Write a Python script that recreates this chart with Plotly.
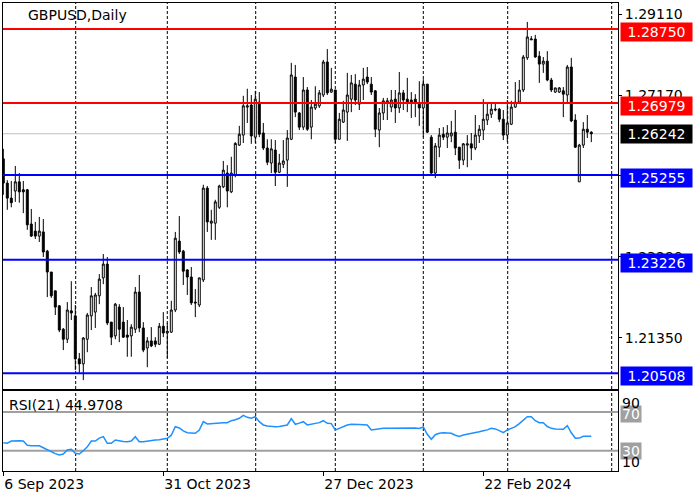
import plotly.graph_objects as go

# ---------------- data ----------------
opens = [
    1.2564, 1.2506, 1.2470, 1.2487, 1.2509, 1.2490, 1.2490, 1.2408, 1.2391, 1.2379,
    1.2389, 1.2343, 1.2293, 1.2248, 1.2212, 1.2156, 1.2132, 1.2200, 1.2188, 1.2085,
    1.2073, 1.2132, 1.2188, 1.2197, 1.2236, 1.2279, 1.2312, 1.2173, 1.2140, 1.2209,
    1.2173, 1.2142, 1.2140, 1.2156, 1.2245, 1.2159, 1.2111, 1.2128, 1.2128, 1.2120,
    1.2163, 1.2147, 1.2149, 1.2202, 1.2367, 1.2343, 1.2298, 1.2281, 1.2221, 1.2214,
    1.2274, 1.2494, 1.2410, 1.2410, 1.2448, 1.2497, 1.2530, 1.2485, 1.2525, 1.2597,
    1.2621, 1.2688, 1.2693, 1.2616, 1.2700, 1.2626, 1.2590, 1.2554, 1.2585, 1.2532,
    1.2551, 1.2561, 1.2611, 1.2760, 1.2674, 1.2640, 1.2729, 1.2640, 1.2686, 1.2691,
    1.2717, 1.2796, 1.2724, 1.2729, 1.2611, 1.2652, 1.2676, 1.2707, 1.2743, 1.2695,
    1.2741, 1.2760, 1.2743, 1.2727, 1.2633, 1.2674, 1.2698, 1.2688, 1.2707, 1.2686,
    1.2722, 1.2707, 1.2705, 1.2707, 1.2698, 1.2686, 1.2743, 1.2616, 1.2530, 1.2592,
    1.2623, 1.2616, 1.2619, 1.2628, 1.2592, 1.2561, 1.2597, 1.2600, 1.2590, 1.2619,
    1.2633, 1.2657, 1.2671, 1.2681, 1.2683, 1.2659, 1.2621, 1.2647, 1.2688, 1.2700,
    1.2729, 1.2806, 1.2849, 1.2851, 1.2810, 1.2791, 1.2798, 1.2753, 1.2724, 1.2724,
    1.2727, 1.2717, 1.2784, 1.2657, 1.2509, 1.2597, 1.2635, 1.2628,
]
highs = [
    1.2588, 1.2513, 1.2511, 1.2547, 1.2530, 1.2511, 1.2492, 1.2444, 1.2413, 1.2425,
    1.2420, 1.2346, 1.2293, 1.2248, 1.2214, 1.2159, 1.2221, 1.2271, 1.2214, 1.2099,
    1.2137, 1.2195, 1.2257, 1.2243, 1.2288, 1.2336, 1.2329, 1.2173, 1.2219, 1.2216,
    1.2209, 1.2178, 1.2168, 1.2257, 1.2286, 1.2173, 1.2137, 1.2161, 1.2137, 1.2171,
    1.2197, 1.2171, 1.2224, 1.2389, 1.2427, 1.2346, 1.2300, 1.2305, 1.2252, 1.2279,
    1.2502, 1.2499, 1.2442, 1.2466, 1.2502, 1.2559, 1.2549, 1.2569, 1.2604, 1.2643,
    1.2715, 1.2732, 1.2717, 1.2727, 1.2724, 1.2650, 1.2611, 1.2611, 1.2609, 1.2576,
    1.2609, 1.2633, 1.2794, 1.2789, 1.2676, 1.2760, 1.2736, 1.2705, 1.2738, 1.2729,
    1.2801, 1.2827, 1.2782, 1.2729, 1.2674, 1.2703, 1.2770, 1.2765, 1.2767, 1.2753,
    1.2782, 1.2784, 1.2760, 1.2729, 1.2686, 1.2710, 1.2710, 1.2729, 1.2729, 1.2772,
    1.2729, 1.2758, 1.2724, 1.2719, 1.2750, 1.2755, 1.2743, 1.2621, 1.2602, 1.2638,
    1.2640, 1.2645, 1.2655, 1.2681, 1.2592, 1.2602, 1.2621, 1.2626, 1.2669, 1.2645,
    1.2707, 1.2698, 1.2698, 1.2698, 1.2686, 1.2681, 1.2705, 1.2703, 1.2748, 1.2753,
    1.2813, 1.2892, 1.2858, 1.2861, 1.2822, 1.2808, 1.2822, 1.2758, 1.2734, 1.2736,
    1.2736, 1.2789, 1.2806, 1.2671, 1.2600, 1.2652, 1.2669, 1.2630,
]
lows = [
    1.2478, 1.2442, 1.2448, 1.2461, 1.2459, 1.2434, 1.2394, 1.2377, 1.2372, 1.2365,
    1.2329, 1.2233, 1.2231, 1.2190, 1.2149, 1.2106, 1.2123, 1.2178, 1.2058, 1.2051,
    1.2034, 1.2101, 1.2154, 1.2159, 1.2216, 1.2264, 1.2166, 1.2118, 1.2132, 1.2125,
    1.2135, 1.2090, 1.2090, 1.2147, 1.2149, 1.2101, 1.2065, 1.2113, 1.2113, 1.2118,
    1.2137, 1.2087, 1.2147, 1.2197, 1.2336, 1.2262, 1.2238, 1.2214, 1.2185, 1.2209,
    1.2269, 1.2389, 1.2370, 1.2370, 1.2444, 1.2494, 1.2448, 1.2482, 1.2520, 1.2595,
    1.2602, 1.2650, 1.2600, 1.2602, 1.2616, 1.2585, 1.2549, 1.2530, 1.2499, 1.2530,
    1.2542, 1.2497, 1.2609, 1.2664, 1.2633, 1.2633, 1.2631, 1.2611, 1.2681, 1.2686,
    1.2712, 1.2717, 1.2722, 1.2602, 1.2611, 1.2650, 1.2607, 1.2676, 1.2693, 1.2681,
    1.2705, 1.2743, 1.2717, 1.2616, 1.2592, 1.2657, 1.2657, 1.2676, 1.2650, 1.2674,
    1.2681, 1.2676, 1.2662, 1.2664, 1.2643, 1.2616, 1.2626, 1.2525, 1.2518, 1.2568,
    1.2609, 1.2590, 1.2604, 1.2573, 1.2540, 1.2549, 1.2544, 1.2561, 1.2585, 1.2602,
    1.2609, 1.2645, 1.2662, 1.2678, 1.2652, 1.2609, 1.2604, 1.2645, 1.2686, 1.2698,
    1.2724, 1.2801, 1.2849, 1.2806, 1.2746, 1.2770, 1.2750, 1.2724, 1.2722, 1.2722,
    1.2664, 1.2700, 1.2652, 1.2590, 1.2509, 1.2590, 1.2614, 1.2604,
]
closes = [
    1.2506, 1.2470, 1.2459, 1.2509, 1.2485, 1.2485, 1.2406, 1.2379, 1.2379, 1.2391,
    1.2341, 1.2293, 1.2236, 1.2209, 1.2154, 1.2132, 1.2202, 1.2195, 1.2085, 1.2073,
    1.2135, 1.2190, 1.2236, 1.2238, 1.2276, 1.2312, 1.2171, 1.2137, 1.2216, 1.2156,
    1.2137, 1.2137, 1.2161, 1.2245, 1.2159, 1.2106, 1.2128, 1.2116, 1.2120, 1.2163,
    1.2147, 1.2151, 1.2202, 1.2374, 1.2341, 1.2295, 1.2281, 1.2219, 1.2219, 1.2279,
    1.2494, 1.2413, 1.2415, 1.2461, 1.2499, 1.2537, 1.2487, 1.2530, 1.2601, 1.2623,
    1.2691, 1.2691, 1.2619, 1.2707, 1.2623, 1.2590, 1.2556, 1.2588, 1.2532, 1.2554,
    1.2559, 1.2614, 1.2765, 1.2676, 1.2640, 1.2729, 1.2635, 1.2688, 1.2695, 1.2722,
    1.2796, 1.2722, 1.2731, 1.2611, 1.2659, 1.2681, 1.2717, 1.2746, 1.2705, 1.2741,
    1.2755, 1.2748, 1.2724, 1.2635, 1.2674, 1.2703, 1.2703, 1.2705, 1.2686, 1.2722,
    1.2705, 1.2698, 1.2698, 1.2698, 1.2686, 1.2743, 1.2628, 1.2530, 1.2595, 1.2621,
    1.2616, 1.2626, 1.2626, 1.2590, 1.2561, 1.2600, 1.2600, 1.2590, 1.2621, 1.2635,
    1.2659, 1.2671, 1.2683, 1.2683, 1.2659, 1.2621, 1.2650, 1.2688, 1.2700, 1.2729,
    1.2808, 1.2856, 1.2851, 1.2808, 1.2791, 1.2798, 1.2753, 1.2729, 1.2734, 1.2734,
    1.2719, 1.2784, 1.2655, 1.2592, 1.2597, 1.2635, 1.2628, 1.26242,
]
rsi = [
    38.3, 37.8, 40.0, 40.3, 40.3, 40.0, 35.5, 35.2, 35.2, 35.0,
    33.0, 31.0, 28.5, 27.0, 25.6, 26.6, 30.7, 31.5, 27.3, 26.6,
    30.0, 34.0, 40.0, 40.0, 43.0, 44.5, 37.6, 37.6, 41.0, 40.0,
    39.5, 39.3, 40.0, 44.5, 39.3, 39.3, 40.0, 40.2, 41.0, 41.3,
    41.7, 42.8, 46.0, 54.8, 53.5, 50.5, 48.6, 48.2, 48.0, 51.4,
    60.0, 57.6, 58.0, 58.3, 58.9, 59.0, 58.9, 61.0, 62.0, 63.5,
    66.6, 64.5, 63.5, 65.1, 60.0, 56.6, 55.5, 54.8, 54.8, 55.0,
    55.5, 56.6, 63.1, 57.3, 58.5, 60.0, 56.6, 57.3, 58.3, 59.0,
    61.0, 58.3, 58.0, 51.4, 53.1, 55.0, 56.5, 57.3, 56.8, 57.0,
    56.8, 56.6, 51.4, 52.1, 52.8, 53.1, 53.1, 53.1, 53.3, 53.8,
    53.5, 53.1, 53.3, 53.5, 53.0, 54.5, 47.0, 41.8, 46.5, 48.0,
    48.6, 48.6, 48.0, 46.0, 44.8, 46.2, 47.0, 47.5, 48.5, 49.6,
    50.7, 51.5, 53.1, 52.5, 50.7, 48.6, 51.4, 53.1, 54.8, 58.0,
    61.7, 65.1, 65.1, 61.0, 59.0, 59.0, 55.0, 53.1, 52.5, 52.1,
    52.1, 55.9, 48.5, 42.8, 43.0, 44.8, 45.2, 44.9708,
]
bars = list(range(len(closes)))

date_tick_bars = [0, 40, 80, 120]
date_tick_labels = ["6 Sep 2023", "31 Oct 2023", "27 Dec 2023", "22 Feb 2024"]

price_ticks = [1.29110, 1.27170, 1.25230, 1.23290, 1.21350]

resistance_levels = [1.28750, 1.26979]
support_levels = [1.25255, 1.23226, 1.20508]
last_price = 1.26242
rsi_levels = [70, 30]
rsi_period = 21

grid_bars = [18.1, 41.0, 63.1, 83.0, 105.0, 126.1, 152.1]

# ---------------- figure ----------------
FONT = "DejaVu Sans"
x_range = [-0.075, 153.675]

fig = go.Figure()

fig.add_trace(go.Candlestick(
    x=bars, open=opens, high=highs, low=lows, close=closes,
    increasing=dict(line=dict(color="black", width=1), fillcolor="white"),
    decreasing=dict(line=dict(color="black", width=1), fillcolor="black"),
    whiskerwidth=0, xaxis="x", yaxis="y", showlegend=False, hoverinfo="skip",
))

fig.add_trace(go.Scatter(
    x=bars, y=rsi, mode="lines", xaxis="x2", yaxis="y2",
    line=dict(color="#1E90FF", width=1.5), showlegend=False, hoverinfo="skip",
))

shapes = []
for gx in grid_bars:
    for xr, yr in (("x", "y domain"), ("x2", "y2 domain")):
        shapes.append(dict(type="line", xref=xr, yref=yr, x0=gx, x1=gx, y0=0, y1=1,
                           line=dict(color="black", width=1, dash="3px,2px"), layer="below"))
shapes.append(dict(type="line", xref="x domain", yref="y", x0=0, x1=1,
                   y0=last_price, y1=last_price,
                   line=dict(color="#C0C0C0", width=1), layer="below"))
for lv in rsi_levels:
    shapes.append(dict(type="line", xref="x2 domain", yref="y2", x0=0, x1=1, y0=lv, y1=lv,
                       line=dict(color="#A0A0A0", width=2), layer="below"))
for lv in resistance_levels:
    shapes.append(dict(type="line", xref="x domain", yref="y", x0=0, x1=1, y0=lv, y1=lv,
                       line=dict(color="#FF0000", width=2), layer="above"))
for lv in support_levels:
    shapes.append(dict(type="line", xref="x domain", yref="y", x0=0, x1=1, y0=lv, y1=lv,
                       line=dict(color="#0000FF", width=2), layer="above"))

ann = []
ann.append(dict(text="GBPUSD,Daily", xref="paper", yref="paper", x=0, y=1,
                xanchor="left", yanchor="middle", xshift=23, yshift=-12, showarrow=False,
                font=dict(family=FONT, size=14, color="black")))
ann.append(dict(text=f"RSI({rsi_period}) {rsi[-1]:.4f}", xref="paper", yref="y2 domain", x=0, y=1,
                xanchor="left", yanchor="middle", xshift=4, yshift=-14, showarrow=False,
                font=dict(family=FONT, size=14, color="black")))

def price_box(v, color, yshift):
    return dict(text=f"{v:.5f}", xref="paper", yref="y", x=1, y=v, xanchor="left",
                yanchor="middle", xshift=2, yshift=yshift, showarrow=False,
                bgcolor=color, width=69, height=16, borderpad=1, align="center",
                font=dict(family=FONT, size=14, color="white"))

for lv in resistance_levels:
    ann.append(price_box(lv, "#FF0000", -3.3))
ann.append(price_box(last_price, "#000000", -0.5))
for lv in support_levels:
    ann.append(price_box(lv, "#0000FF", -3.3))

for lv, ys in zip(rsi_levels, (-2, 0)):
    ann.append(dict(text=str(lv), xref="paper", yref="y2", x=1, y=lv, xanchor="left",
                    yanchor="middle", xshift=2, yshift=ys, showarrow=False,
                    bgcolor="#A0A0A0", width=18, height=14, borderpad=1,
                    font=dict(family=FONT, size=14, color="white")))
ann.append(dict(text="90", xref="paper", yref="y2 domain", x=1, y=1, xanchor="left",
                yanchor="middle", xshift=2, yshift=-12, showarrow=False,
                font=dict(family=FONT, size=14, color="black")))
ann.append(dict(text="10", xref="paper", yref="y2 domain", x=1, y=0, xanchor="left",
                yanchor="middle", xshift=2, yshift=9.3, showarrow=False,
                font=dict(family=FONT, size=14, color="black")))

fig.update_layout(
    width=700, height=500,
    margin=dict(l=3, r=82, t=3, b=29, autoexpand=False),
    paper_bgcolor="white", plot_bgcolor="white",
    font=dict(family=FONT, size=14, color="black"),
    boxgap=0.3,
    showlegend=False,
    shapes=shapes, annotations=ann,
    xaxis=dict(domain=[0, 1], anchor="y", range=x_range, showticklabels=False,
               showgrid=False, zeroline=False, showline=True, mirror=True,
               linecolor="black", linewidth=1, ticks="", rangeslider=dict(visible=False),
               automargin=False),
    yaxis=dict(domain=[0.17521, 1], anchor="x", side="right",
               range=[1.20128, 1.293735], tickvals=price_ticks,
               ticktext=[f"{t:.5f}" for t in price_ticks],
               ticks="outside", ticklen=3, tickcolor="black",
               showgrid=False, zeroline=False, showline=True, mirror=True,
               linecolor="black", linewidth=1, automargin=False,
               tickfont=dict(family=FONT, size=14, color="black")),
    xaxis2=dict(domain=[0, 1], anchor="y2", range=x_range, tickvals=date_tick_bars,
                ticktext=date_tick_labels, ticks="outside", ticklen=4, tickcolor="black",
                ticklabelposition="outside right",
                showgrid=False, zeroline=False, showline=True, mirror=True,
                linecolor="black", linewidth=1, automargin=False,
                tickfont=dict(family=FONT, size=14, color="black")),
    yaxis2=dict(domain=[0, 0.17094], anchor="x2", side="right", range=[9.0, 91.7],
                showticklabels=False, ticks="", showgrid=False, zeroline=False,
                showline=True, mirror=True, linecolor="black", linewidth=1,
                automargin=False),
)

fig.write_html("out.html", config={"displayModeBar": False},
               post_script="document.body.style.margin='0';document.body.style.overflow='hidden';")
